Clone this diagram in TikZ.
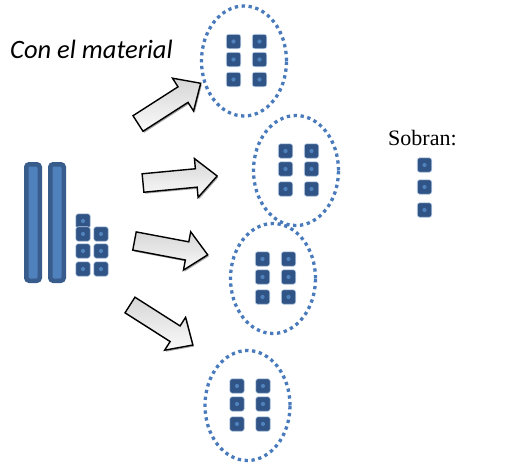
\documentclass[tikz,border=0pt]{standalone}
\usepackage{fontspec}
\setmainfont{Liberation Serif}
\newfontfamily\calibrifont{Carlito}
\usetikzlibrary{shapes.geometric,shadows}
\definecolor{unitdark}{RGB}{48,84,133}
\definecolor{unitlight}{RGB}{79,129,189}
\definecolor{dotblue}{RGB}{72,122,188}
\definecolor{bardark}{RGB}{56,92,140}
\begin{document}
\begin{tikzpicture}[x=1pt,y=-1pt,
  unit/.style={rectangle, minimum size=14.5pt, inner sep=0pt, rounded corners=2.5pt,
    fill=unitdark, draw=unitlight!35!white, line width=0.6pt,
    path picture={\fill[unitlight] ([xshift=-2.2pt,yshift=-2.2pt]path picture bounding box.center) rectangle ([xshift=2.2pt,yshift=2.2pt]path picture bounding box.center);}},
  grp/.style={ellipse, draw=dotblue, line width=3.3pt, dash pattern=on 3.3pt off 3.6pt,
    minimum width=85pt, minimum height=110pt, inner sep=0pt},
  bar/.style={rectangle, minimum width=13.5pt, minimum height=116.5pt, draw=bardark,
    line width=4.5pt, fill=unitlight, rounded corners=3pt, inner sep=0pt},
  blockarrow/.style={draw=black, line width=1.4pt, line join=miter,
    top color=gray!32, bottom color=gray!4,
    drop shadow={shadow xshift=1.2pt, shadow yshift=-1.5pt, opacity=0.35, fill=black}},
  lbl/.style={anchor=base west, inner sep=0pt}]
\useasboundingbox (0,0) rectangle (520,466);
\fill[white] (0,0) rectangle (520,466);

% title text
\node[lbl, font=\calibrifont\itshape\fontsize{26.5}{30}\selectfont] (title) at (10,58) {Con el material};
\node[lbl, font=\fontsize{22}{26}\selectfont] (sobran) at (388,145) {Sobran:};

% tens bars
\node[bar] (b1) at (33,222.5) {};
\node[bar] (b2) at (57,222.5) {};

% units beside bars
\node[unit] (s1) at (83,221) {};
\node[unit] (s2) at (83,234) {};
\node[unit] (s3) at (83,251) {};
\node[unit] (s4) at (83,269) {};
\node[unit] (s5) at (101,234) {};
\node[unit] (s6) at (101,251) {};
\node[unit] (s7) at (101,269) {};

% groups
\node[grp] (g1) at (244,61) {};
\node[grp] (g2) at (296,170.5) {};
\node[grp] (g3) at (273,278.5) {};
\node[grp] (g4) at (247.5,405.5) {};

\foreach \g in {g1,g2,g3,g4}{
  \foreach \dx/\dy/\k in {-10.5/-19.5/1, -10.5/-1.5/2, -10.5/18.5/3, 15.5/-19.5/4, 15.5/-1.5/5, 15.5/18.5/6}{
    \node[unit] (\g-\k) at ([shift={(\dx,\dy)}]\g.center) {};
  }
}

% remaining units
\node[unit] (r1) at (424.5,165) {};
\node[unit] (r2) at (424.5,187) {};
\node[unit] (r3) at (424.5,210) {};

% block arrows
\foreach \x/\y/\a in {138/123.5/32.7, 143/183/5.4, 134.5/241/-10.7, 130/305/-32.5}{
  \begin{scope}[shift={(\x,\y)}, rotate=\a]
    \path[blockarrow] (0,-9.25) -- (53.5,-9.25) -- (53.5,-19.5) -- (74.5,0) -- (53.5,19.5) -- (53.5,9.25) -- (0,9.25) -- cycle;
  \end{scope}
}
\end{tikzpicture}
\end{document}
